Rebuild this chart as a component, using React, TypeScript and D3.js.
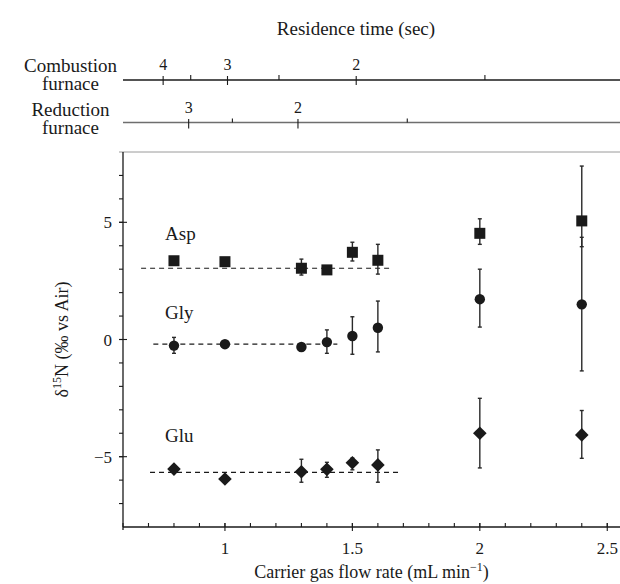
import React from "react";
import * as d3 from "d3";

// ---- data ----
const flowRates = [0.8, 1.0, 1.3, 1.4, 1.5, 1.6, 2.0, 2.4];

const aspMean = [3.36, 3.32, 3.04, 2.97, 3.72, 3.38, 4.53, 5.06];
const aspLow = [3.36, 3.32, 2.75, 2.97, 3.35, 2.79, 4.06, 3.96];
const aspHigh = [3.36, 3.32, 3.43, 2.97, 4.15, 4.06, 5.15, 7.4];

const glyMean = [-0.26, -0.2, -0.32, -0.11, 0.15, 0.5, 1.72, 1.5];
const glyLow = [-0.59, -0.2, -0.32, -0.59, -0.63, -0.53, 0.53, -1.34];
const glyHigh = [0.09, -0.2, -0.32, 0.41, 0.97, 1.64, 3.0, 4.36];

const gluMean = [-5.53, -5.95, -5.64, -5.54, -5.26, -5.35, -4.0, -4.07];
const gluLow = [-5.53, -5.95, -6.09, -5.88, -5.56, -6.09, -5.48, -5.07];
const gluHigh = [-5.53, -5.95, -5.11, -5.24, -5.06, -4.71, -2.51, -3.03];

// dashed reference lines: [mean, x start, x end]
const aspRef = [3.04, 0.671, 1.654];
const glyRef = [-0.2, 0.719, 1.441];
const gluRef = [-5.67, 0.706, 1.683];

const seriesNames = ["Asp", "Gly", "Glu"];
const seriesLabelPos = [
  [0.765, 4.25],
  [0.765, 0.88],
  [0.765, -4.37],
];

// residence time axes: time = k / flow
const combustionK = 3.03;
const reductionK = 2.573;
const combustionTicks = [4, 3.5, 3, 2.5, 2, 1.5];
const combustionLabels = [4, 3, 2];
const reductionTicks = [3, 2.5, 2, 1.5, 1];
const reductionLabels = [3, 2, 1];

const xMajor = [1, 1.5, 2, 2.5];
const xMinor = d3.range(6, 26).map((d) => d / 10);
const yMajor = [-5, 0, 5];
const yMinor = d3.range(-7, 8);

const W = 620;
const H = 584;
const FONT = '"Liberation Serif", "Times New Roman", serif';

export default function App() {
  const x = d3.scaleLinear().domain([0.6, 2.55]).range([123, 620]);
  const y = d3.scaleLinear().domain([-8, 8]).range([527, 152]);
  const fmt = (v: number) => (v < 0 ? "\u2212" + Math.abs(v) : String(v));

  const series = [
    { name: "Asp", mean: aspMean, lo: aspLow, hi: aspHigh, ref: aspRef, shape: "square" },
    { name: "Gly", mean: glyMean, lo: glyLow, hi: glyHigh, ref: glyRef, shape: "circle" },
    { name: "Glu", mean: gluMean, lo: gluLow, hi: gluHigh, ref: gluRef, shape: "diamond" },
  ];

  const combY = 80;
  const redY = 122.5;
  const ink = "#1a1a1a";

  const marker = (shape: string, cx: number, cy: number, key: string) => {
    if (shape === "square")
      return <rect key={key} x={cx - 5.5} y={cy - 5.5} width={11} height={11} fill={ink} />;
    if (shape === "circle") return <circle key={key} cx={cx} cy={cy} r={5.2} fill={ink} />;
    const s = 6.8;
    return (
      <path
        key={key}
        d={`M${cx},${cy - s}L${cx + s},${cy}L${cx},${cy + s}L${cx - s},${cy}Z`}
        fill={ink}
      />
    );
  };

  return (
    <svg
      width={W}
      height={H}
      style={{ position: "absolute", left: 0, top: 0, background: "#fff" }}
      fontFamily={FONT}
    >
      <rect width={W} height={H} fill="#fff" />
      {/* Top title */}
      <text x={356} y={35} fontSize={19} textAnchor="middle" fill={ink}>
        Residence time (sec)
      </text>

      {/* Combustion furnace axis */}
      <text x={70.5} y={71.5} fontSize={19} textAnchor="middle" fill={ink}>
        Combustion
      </text>
      <text x={70.5} y={90} fontSize={19} textAnchor="middle" fill={ink}>
        furnace
      </text>
      <line x1={123} x2={W} y1={combY} y2={combY} stroke={ink} strokeWidth={1.3} />
      {combustionTicks.map((t) => {
        const px = x(combustionK / t);
        const major = combustionLabels.includes(t);
        return (
          <line
            key={"ct" + t}
            x1={px}
            x2={px}
            y1={major ? combY - 4 : combY - 5}
            y2={major ? combY + 5 : combY}
            stroke={ink}
            strokeWidth={1.1}
          />
        );
      })}
      {combustionLabels.map((t) => (
        <text key={"cl" + t} x={x(combustionK / t)} y={70} fontSize={16} textAnchor="middle" fill={ink}>
          {t}
        </text>
      ))}

      {/* Reduction furnace axis */}
      <text x={70.5} y={115.5} fontSize={19} textAnchor="middle" fill={ink}>
        Reduction
      </text>
      <text x={70.5} y={134} fontSize={19} textAnchor="middle" fill={ink}>
        furnace
      </text>
      <line x1={123} x2={W} y1={redY} y2={redY} stroke="#6e6e6e" strokeWidth={1.5} />
      {reductionTicks.map((t) => {
        const px = x(reductionK / t);
        const major = reductionLabels.includes(t);
        return (
          <line
            key={"rt" + t}
            x1={px}
            x2={px}
            y1={major ? redY - 3.5 : redY - 4}
            y2={major ? redY + 6 : redY}
            stroke={ink}
            strokeWidth={1.1}
          />
        );
      })}
      {reductionLabels.map((t) => (
        <text key={"rl" + t} x={x(reductionK / t)} y={113} fontSize={16} textAnchor="middle" fill={ink}>
          {t}
        </text>
      ))}

      {/* Plot frame */}
      <line x1={119} x2={W} y1={y(8)} y2={y(8)} stroke="#9a9a9a" strokeWidth={1} />
      <line x1={x(0.6)} x2={x(0.6)} y1={y(8)} y2={y(-8) + 3} stroke={ink} strokeWidth={1.3} />
      <line x1={x(0.6)} x2={W} y1={y(-8)} y2={y(-8)} stroke={ink} strokeWidth={1.3} />

      {/* x ticks */}
      {xMinor.map((v) => (
        <line key={"xm" + v} x1={x(v)} x2={x(v)} y1={y(-8) - 4} y2={y(-8)} stroke={ink} strokeWidth={1.1} />
      ))}
      {xMajor.map((v) => (
        <line key={"xM" + v} x1={x(v)} x2={x(v)} y1={y(-8) - 4} y2={y(-8) + 4} stroke={ink} strokeWidth={1.1} />
      ))}
      {xMajor.map((v) => (
        <text key={"xl" + v} x={x(v)} y={554} fontSize={17} textAnchor="middle" fill={ink}>
          {v}
        </text>
      ))}

      {/* y ticks */}
      {yMinor.map((v) => (
        <line key={"ym" + v} x1={x(0.6) - 4} x2={x(0.6)} y1={y(v)} y2={y(v)} stroke={ink} strokeWidth={1.1} />
      ))}
      {yMajor.map((v) => (
        <line key={"yM" + v} x1={x(0.6) - 4} x2={x(0.6) + 4} y1={y(v)} y2={y(v)} stroke={ink} strokeWidth={1.1} />
      ))}
      {yMajor.map((v) => (
        <text key={"yl" + v} x={112} y={y(v) + 6} fontSize={17} textAnchor="end" fill={ink}>
          {fmt(v)}
        </text>
      ))}

      {/* axis titles */}
      <text x={371.5} y={578} fontSize={18} textAnchor="middle" fill={ink}>
        Carrier gas flow rate (mL min
        <tspan dy={-7} fontSize={12}>
          {"\u22121"}
        </tspan>
        <tspan dy={7}>)</tspan>
      </text>
      <text transform={`translate(68,${y(0)}) rotate(-90)`} fontSize={18} textAnchor="middle" fill={ink}>
        δ
        <tspan dy={-7} fontSize={12}>
          15
        </tspan>
        <tspan dy={7}>N (‰ vs Air)</tspan>
      </text>

      {/* series */}
      {series.map((s, si) => (
        <g key={s.name}>
          <line
            x1={x(s.ref[1])}
            x2={x(s.ref[2])}
            y1={y(s.ref[0])}
            y2={y(s.ref[0])}
            stroke={ink}
            strokeWidth={1.2}
            strokeDasharray="5,4"
          />
          {flowRates.map((f, i) =>
            s.hi[i] - s.lo[i] > 0.05 ? (
              <g key={"e" + i} stroke="#2a2a2a" strokeWidth={1.4}>
                <line x1={x(f)} x2={x(f)} y1={y(s.hi[i])} y2={y(s.lo[i])} />
                <line x1={x(f) - 2} x2={x(f) + 2} y1={y(s.hi[i])} y2={y(s.hi[i])} />
                <line x1={x(f) - 2} x2={x(f) + 2} y1={y(s.lo[i])} y2={y(s.lo[i])} />
              </g>
            ) : null
          )}
          {flowRates.map((f, i) => marker(s.shape, x(f), y(s.mean[i]), "m" + i))}
          <text
            x={x(seriesLabelPos[si][0])}
            y={y(seriesLabelPos[si][1])}
            fontSize={19}
            fill={ink}
          >
            {seriesNames[si]}
          </text>
        </g>
      ))}
    </svg>
  );
}
